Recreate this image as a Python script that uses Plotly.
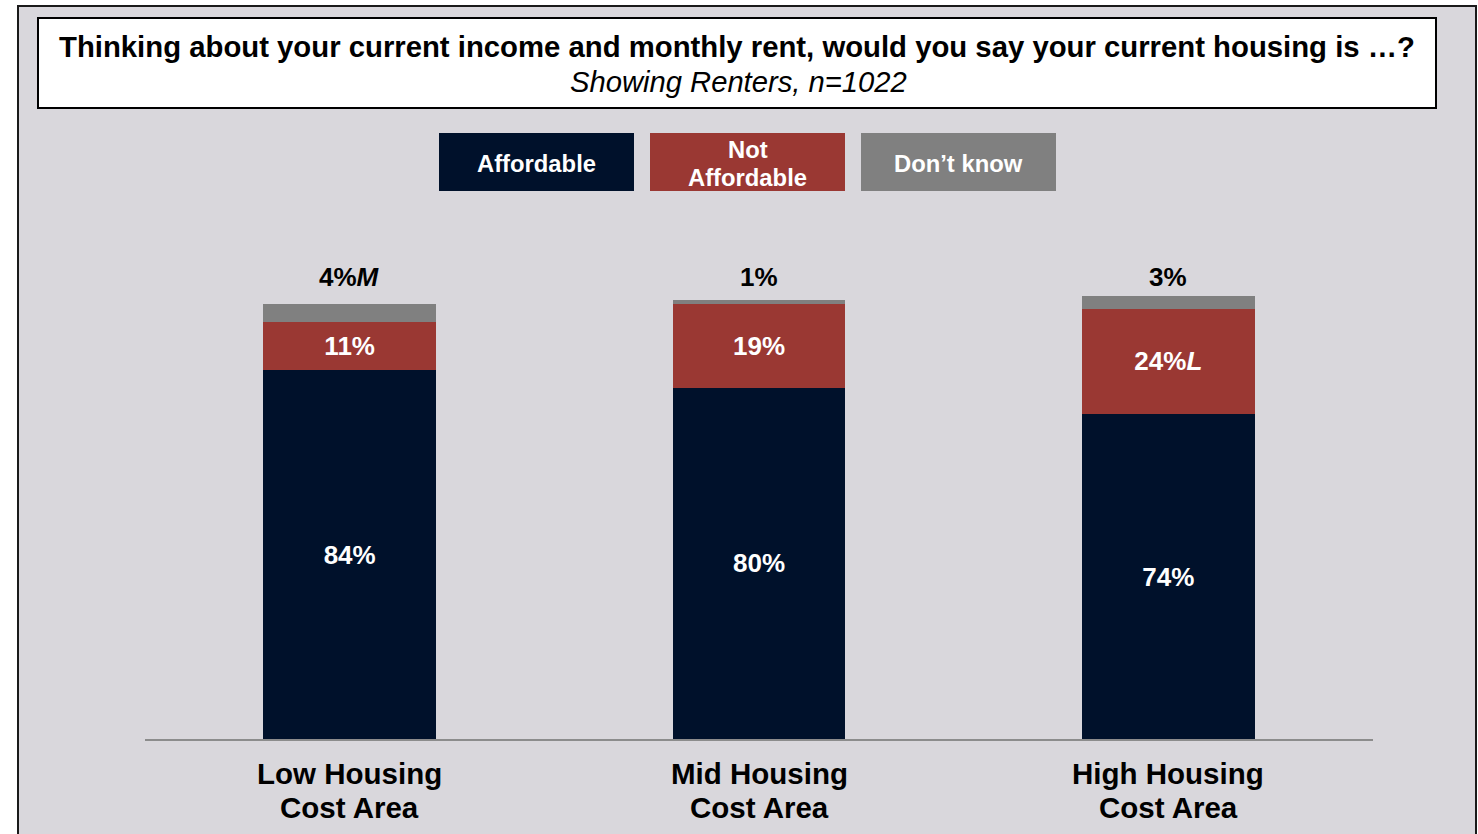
import plotly.graph_objects as go

# Survey results: renters, share rating their housing as affordable, by area
categories = ["Low Housing Cost Area", "Mid Housing Cost Area", "High Housing Cost Area"]
category_lines = [["Low Housing", "Cost Area"], ["Mid Housing", "Cost Area"], ["High Housing", "Cost Area"]]
series_names = ["Affordable", "Not Affordable", "Don’t know"]
legend_lines = [["Affordable"], ["Not", "Affordable"], ["Don’t know"]]
affordable = [84, 80, 74]
not_affordable = [11, 19, 24]
dont_know = [4, 1, 3]
# significance letters shown after a value
not_affordable_sig = ["", "", "L"]
dont_know_sig = ["M", "", ""]

W, H = 1478, 834
FONT = "Liberation Sans, Arial, Helvetica, sans-serif"
NAVY, RED, GREY = "#00112B", "#9A3833", "#808080"
BG = "#D9D7DC"


def fx(px):
    return px / W


def fy(py):
    return 1 - py / H


PX_PER_PT = 4.39
plot_top, plot_bottom = 250, 739
y_max = (plot_bottom - plot_top) / PX_PER_PT


def label(v, sig):
    return f"{v}%" + (f"<i>{sig}</i>" if sig else "")


fig = go.Figure()
bar_w = 0.422
fig.add_bar(x=categories, y=affordable, name=series_names[0], marker_color=NAVY,
            marker_line_width=0, width=bar_w,
            text=[label(v, "") for v in affordable], textposition="inside",
            insidetextanchor="middle", constraintext="none",
            textfont=dict(family=FONT, size=26, color="white", weight="bold"))
fig.add_bar(x=categories, y=not_affordable, name=series_names[1], marker_color=RED,
            marker_line_width=0, width=bar_w,
            text=[label(v, s) for v, s in zip(not_affordable, not_affordable_sig)],
            textposition="inside", insidetextanchor="middle", constraintext="none",
            textfont=dict(family=FONT, size=26, color="white", weight="bold"))
fig.add_bar(x=categories, y=dont_know, name=series_names[2], marker_color=GREY,
            marker_line_width=0, width=bar_w, textposition="none")

shapes = [
    # slide panel with dark frame
    dict(type="rect", xref="paper", yref="paper", x0=fx(18), x1=fx(1476), y0=fy(840), y1=fy(6),
         fillcolor=BG, line=dict(color="#1a1a1a", width=2), layer="below"),
    # title box
    dict(type="rect", xref="paper", yref="paper", x0=fx(38), x1=fx(1436), y0=fy(108), y1=fy(18),
         fillcolor="white", line=dict(color="black", width=2), layer="below"),
]
annotations = [
    dict(text="<b>Thinking about your current income and monthly rent, would you say your current housing is …?</b>",
         xref="paper", yref="paper", x=fx(737), y=fy(47), showarrow=False,
         font=dict(family=FONT, size=29.3, color="black"), xanchor="center", yanchor="middle"),
    dict(text="<i>Showing Renters, n=1022</i>", xref="paper", yref="paper", x=fx(738), y=fy(82),
         showarrow=False, font=dict(family=FONT, size=29.2, color="black"),
         xanchor="center", yanchor="middle"),
]

# legend drawn as coloured tiles with the series name inside
for i, (lines, col) in enumerate(zip(legend_lines, [NAVY, RED, GREY])):
    x0 = 439 + i * 211
    shapes.append(dict(type="rect", xref="paper", yref="paper", x0=fx(x0), x1=fx(x0 + 195),
                       y0=fy(191), y1=fy(133), fillcolor=col, line=dict(width=0), layer="below"))
    first = 163 - 14 * (len(lines) - 1)
    for j, line in enumerate(lines):
        annotations.append(dict(text=f"<b>{line}</b>", xref="paper", yref="paper", x=fx(x0 + 97.5),
                                y=fy(first + 28 * j), showarrow=False, xanchor="center",
                                yanchor="middle", font=dict(family=FONT, size=23.8, color="white")))

# "Don't know" values above each bar
for c, v, s in zip(categories, dont_know, dont_know_sig):
    annotations.append(dict(text=f"<b>{label(v, s)}</b>", x=c, xref="x", yref="paper", y=fy(277),
                            showarrow=False, xanchor="center", yanchor="middle",
                            font=dict(family=FONT, size=26, color="black")))

# category labels, two lines each
for c, lines in zip(categories, category_lines):
    for j, line in enumerate(lines):
        annotations.append(dict(text=f"<b>{line}</b>", x=c, xref="x", yref="paper",
                                y=fy(773 + 34 * j), showarrow=False, xanchor="center",
                                yanchor="middle", font=dict(family=FONT, size=29.5, color="black")))

fig.update_layout(
    width=W, height=H, autosize=False,
    margin=dict(l=0, r=0, t=0, b=0, pad=0),
    paper_bgcolor="white", plot_bgcolor="rgba(0,0,0,0)",
    barmode="stack", showlegend=False,
    shapes=shapes, annotations=annotations,
    xaxis=dict(domain=[fx(145), fx(1373)], range=[-0.5, 2.5], showticklabels=False,
               showline=True, linecolor="#8C8C8C", linewidth=2, ticks="", showgrid=False,
               zeroline=False),
    yaxis=dict(domain=[fy(plot_bottom), fy(plot_top)], range=[0, y_max], visible=False,
               showgrid=False, zeroline=False),
)

fig.write_html("out.html")
